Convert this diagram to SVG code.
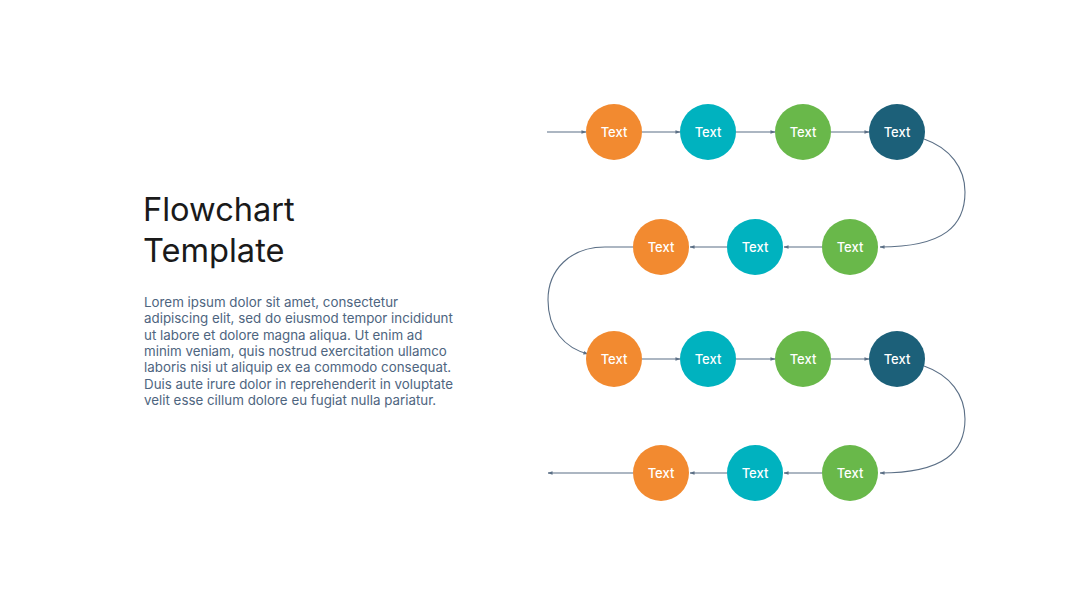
<svg xmlns="http://www.w3.org/2000/svg" width="1080" height="608" viewBox="0 0 1080 608">
<defs>
<marker id="ah" viewBox="0 0 6 6" refX="5.5" refY="3" markerWidth="5" markerHeight="5" orient="auto" markerUnits="userSpaceOnUse">
<path d="M0,0.8 L6,3 L0,5.2 Z" fill="#5B6F86"/>
</marker>
<style>
.c{stroke:#5B6F86;stroke-width:1.1;fill:none;marker-end:url(#ah)}
.t{font-family:Inter,"Noto Sans",sans-serif;font-size:13px;font-weight:500;fill:#fff;text-anchor:middle}
.o{fill:#F28A30}.b{fill:#00B2BF}.g{fill:#69B84A}.d{fill:#1C6079}
.title{font-family:Inter,"Noto Sans",sans-serif;font-size:32.6px;fill:#1A1A1A}
.body{font-family:Inter,"Noto Sans",sans-serif;font-size:13.35px;fill:#4E6580}
</style>
</defs>
<rect width="1080" height="608" fill="#fff"/>
<g id="title"><text class="title" x="143" y="221">Flowchart</text><text class="title" x="143" y="262">Template</text></g>
<g id="body"><text class="body" x="144" y="307">Lorem ipsum dolor sit amet, consectetur</text>
<text class="body" x="144" y="323">adipiscing elit, sed do eiusmod tempor incididunt</text>
<text class="body" x="144" y="340">ut labore et dolore magna aliqua. Ut enim ad</text>
<text class="body" x="144" y="356">minim veniam, quis nostrud exercitation ullamco</text>
<text class="body" x="144" y="372">laboris nisi ut aliquip ex ea commodo consequat.</text>
<text class="body" x="144" y="389">Duis aute irure dolor in reprehenderit in voluptate</text>
<text class="body" x="144" y="405">velit esse cillum dolore eu fugiat nulla pariatur.</text></g>
<g id="connectors">
<path class="c" d="M547,132 L586,132"/>
<path class="c" d="M642,132 L680,132"/>
<path class="c" d="M736,132 L775,132"/>
<path class="c" d="M831,132 L869,132"/>
<path class="c" d="M924,139 C950,148 965,168 965,192 C965,225 945,247 880,247"/>
<path class="c" d="M822,247 L784,247"/>
<path class="c" d="M727,247 L690,247"/>
<path class="c" d="M633,247 L605,247 C570,247 548,270 548,300 C548,330 565,348 588,354"/>
<path class="c" d="M642,359 L680,359"/>
<path class="c" d="M736,359 L775,359"/>
<path class="c" d="M831,359 L869,359"/>
<path class="c" d="M924,366 C950,375 965,395 965,419 C965,451 945,473 880,473"/>
<path class="c" d="M822,473 L784,473"/>
<path class="c" d="M727,473 L690,473"/>
<path class="c" d="M633,473 L548,473"/>
</g>
<g id="n1"><circle class="o" cx="614" cy="132" r="28"/><text class="t" x="614" y="136.5">Text</text></g>
<g id="n2"><circle class="b" cx="708" cy="132" r="28"/><text class="t" x="708" y="136.5">Text</text></g>
<g id="n3"><circle class="g" cx="803" cy="132" r="28"/><text class="t" x="803" y="136.5">Text</text></g>
<g id="n4"><circle class="d" cx="897" cy="132" r="28"/><text class="t" x="897" y="136.5">Text</text></g>
<g id="n5"><circle class="g" cx="850" cy="247" r="28"/><text class="t" x="850" y="251.5">Text</text></g>
<g id="n6"><circle class="b" cx="755" cy="247" r="28"/><text class="t" x="755" y="251.5">Text</text></g>
<g id="n7"><circle class="o" cx="661" cy="247" r="28"/><text class="t" x="661" y="251.5">Text</text></g>
<g id="n8"><circle class="o" cx="614" cy="359" r="28"/><text class="t" x="614" y="363.5">Text</text></g>
<g id="n9"><circle class="b" cx="708" cy="359" r="28"/><text class="t" x="708" y="363.5">Text</text></g>
<g id="n10"><circle class="g" cx="803" cy="359" r="28"/><text class="t" x="803" y="363.5">Text</text></g>
<g id="n11"><circle class="d" cx="897" cy="359" r="28"/><text class="t" x="897" y="363.5">Text</text></g>
<g id="n12"><circle class="g" cx="850" cy="473" r="28"/><text class="t" x="850" y="477.5">Text</text></g>
<g id="n13"><circle class="b" cx="755" cy="473" r="28"/><text class="t" x="755" y="477.5">Text</text></g>
<g id="n14"><circle class="o" cx="661" cy="473" r="28"/><text class="t" x="661" y="477.5">Text</text></g>
</svg>
